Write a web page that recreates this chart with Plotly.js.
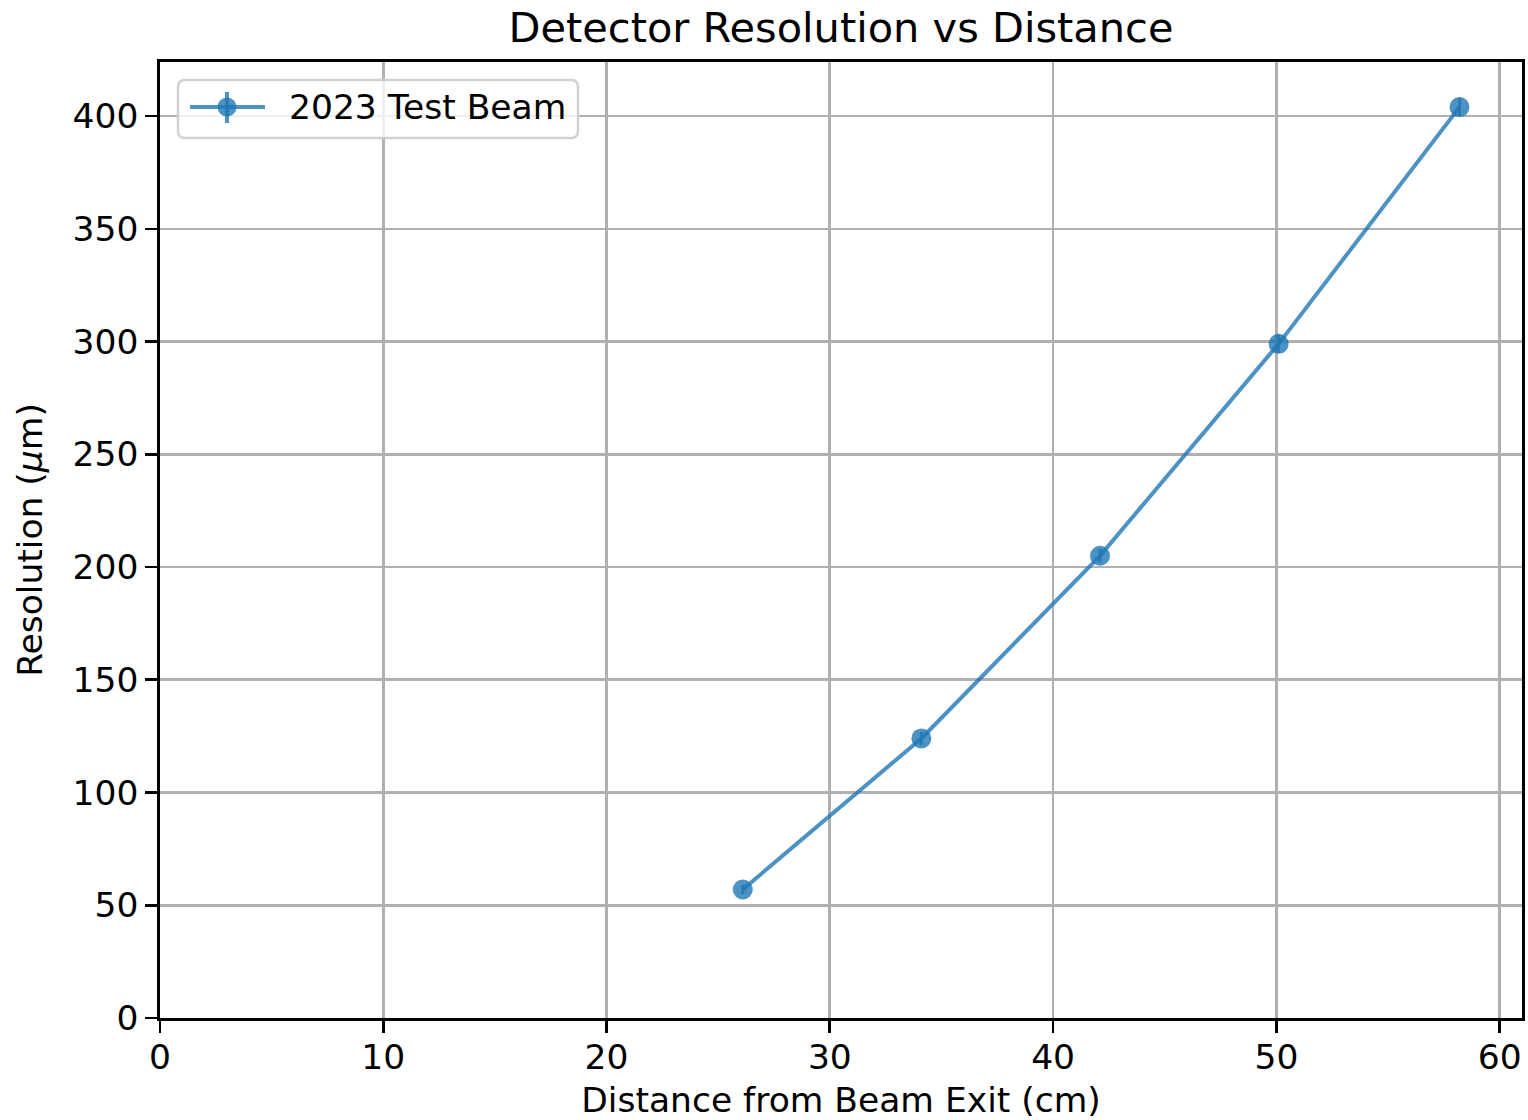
<!DOCTYPE html>
<html>
<head>
<meta charset="utf-8">
<script src="https://cdn.plot.ly/plotly-3.0.1.min.js"></script>
<style>
  html, body { margin: 0; padding: 0; background: #ffffff; }
  #chart { width: 1528px; height: 1120px; }
</style>
</head>
<body>
<div id="chart"></div>
<script>
// Measured resolution at each detector distance
const distanceCm = [26.1, 34.1, 42.1, 50.1, 58.2];
const resolutionUm = [57, 124, 205, 299, 404];
const resolutionErr = [2, 3, 3, 4, 4];
const seriesName = '2023 Test Beam';

const xTicks = [0, 10, 20, 30, 40, 50, 60];
const yTicks = [0, 50, 100, 150, 200, 250, 300, 350, 400];

const W = 1528, H = 1120;
const M = { l: 160, r: 6, t: 62, b: 102 };
const plotW = W - M.l - M.r, plotH = H - M.t - M.b;
const FONT = 'DejaVu Sans, sans-serif';
const BLUE = 'rgba(31,119,180,0.8)';
const FS = 34.5;

// page pixel -> paper coordinates (for the legend box)
const px = X => (X - M.l) / plotW;
const py = Y => (H - M.b - Y) / plotH;

function roundedRect(x0, y0, x1, y1, r) {
  const p = [
    `M${px(x0 + r)},${py(y0)}`,
    `L${px(x1 - r)},${py(y0)}`,
    `Q${px(x1)},${py(y0)} ${px(x1)},${py(y0 + r)}`,
    `L${px(x1)},${py(y1 - r)}`,
    `Q${px(x1)},${py(y1)} ${px(x1 - r)},${py(y1)}`,
    `L${px(x0 + r)},${py(y1)}`,
    `Q${px(x0)},${py(y1)} ${px(x0)},${py(y1 - r)}`,
    `L${px(x0)},${py(y0 + r)}`,
    `Q${px(x0)},${py(y0)} ${px(x0 + r)},${py(y0)}`,
    'Z'
  ];
  return p.join(' ');
}

const trace = {
  x: distanceCm,
  y: resolutionUm,
  error_y: { type: 'data', array: resolutionErr, visible: true, color: BLUE, thickness: 3, width: 0 },
  mode: 'lines+markers',
  name: seriesName,
  line: { color: BLUE, width: 4 },
  marker: { color: BLUE, size: 20 },
  showlegend: false,
  hoverinfo: 'x+y'
};

const legendShapes = [
  { type: 'path', xref: 'paper', yref: 'paper', path: roundedRect(178, 80, 578, 138, 7),
    fillcolor: 'rgba(255,255,255,0.8)', line: { color: 'rgba(204,204,204,0.9)', width: 2.5 }, layer: 'above' },
  { type: 'line', xref: 'paper', yref: 'paper', x0: px(190), x1: px(265), y0: py(107), y1: py(107),
    line: { color: BLUE, width: 4 }, layer: 'above' },
  { type: 'line', xref: 'paper', yref: 'paper', x0: px(227), x1: px(227), y0: py(92), y1: py(123),
    line: { color: BLUE, width: 4 }, layer: 'above' },
  { type: 'circle', xref: 'paper', yref: 'paper', x0: px(217.5), x1: px(236.5), y0: py(97.5), y1: py(116.5),
    fillcolor: BLUE, line: { color: BLUE, width: 0 }, layer: 'above' }
];

const layout = {
  width: W, height: H,
  margin: M,
  paper_bgcolor: '#ffffff',
  plot_bgcolor: '#ffffff',
  font: { family: FONT, size: FS, color: '#000000' },
  title: { text: 'Detector Resolution vs Distance', font: { family: FONT, size: 41.5, color: '#000000' },
           x: 0.5, xref: 'paper', y: 1 - 27 / H, yanchor: 'middle' },
  showlegend: false,
  xaxis: {
    range: [0, 61], tickvals: xTicks, ticktext: xTicks.map(String),
    ticks: 'outside', ticklen: 12, tickwidth: 2.7, tickcolor: '#000000',
    ticklabelstandoff: -5,
    showgrid: true, gridcolor: '#b0b0b0', gridwidth: 2.7,
    showline: true, linecolor: '#000000', linewidth: 2.7, mirror: true,
    zeroline: false, automargin: false,
    tickfont: { family: FONT, size: FS, color: '#000000' },
    title: { text: 'Distance from Beam Exit (cm)', font: { family: FONT, size: FS, color: '#000000' }, standoff: 18 }
  },
  yaxis: {
    range: [0, 424], tickvals: yTicks, ticktext: yTicks.map(String),
    ticks: 'outside', ticklen: 12, tickwidth: 2.7, tickcolor: '#000000',
    showgrid: true, gridcolor: '#b0b0b0', gridwidth: 2.7,
    showline: true, linecolor: '#000000', linewidth: 2.7, mirror: true,
    zeroline: false, automargin: false,
    tickfont: { family: FONT, size: FS, color: '#000000' },
    title: { text: 'Resolution (<i>μ</i>m)', font: { family: FONT, size: FS, color: '#000000' }, standoff: 20 }
  },
  shapes: legendShapes,
  annotations: [
    { xref: 'paper', yref: 'paper', x: px(287), y: py(107), xanchor: 'left', yanchor: 'middle',
      text: seriesName, showarrow: false, font: { family: FONT, size: FS, color: '#000000' } }
  ]
};

Plotly.newPlot('chart', [trace], layout, { staticPlot: true, displayModeBar: false });
</script>
</body>
</html>
